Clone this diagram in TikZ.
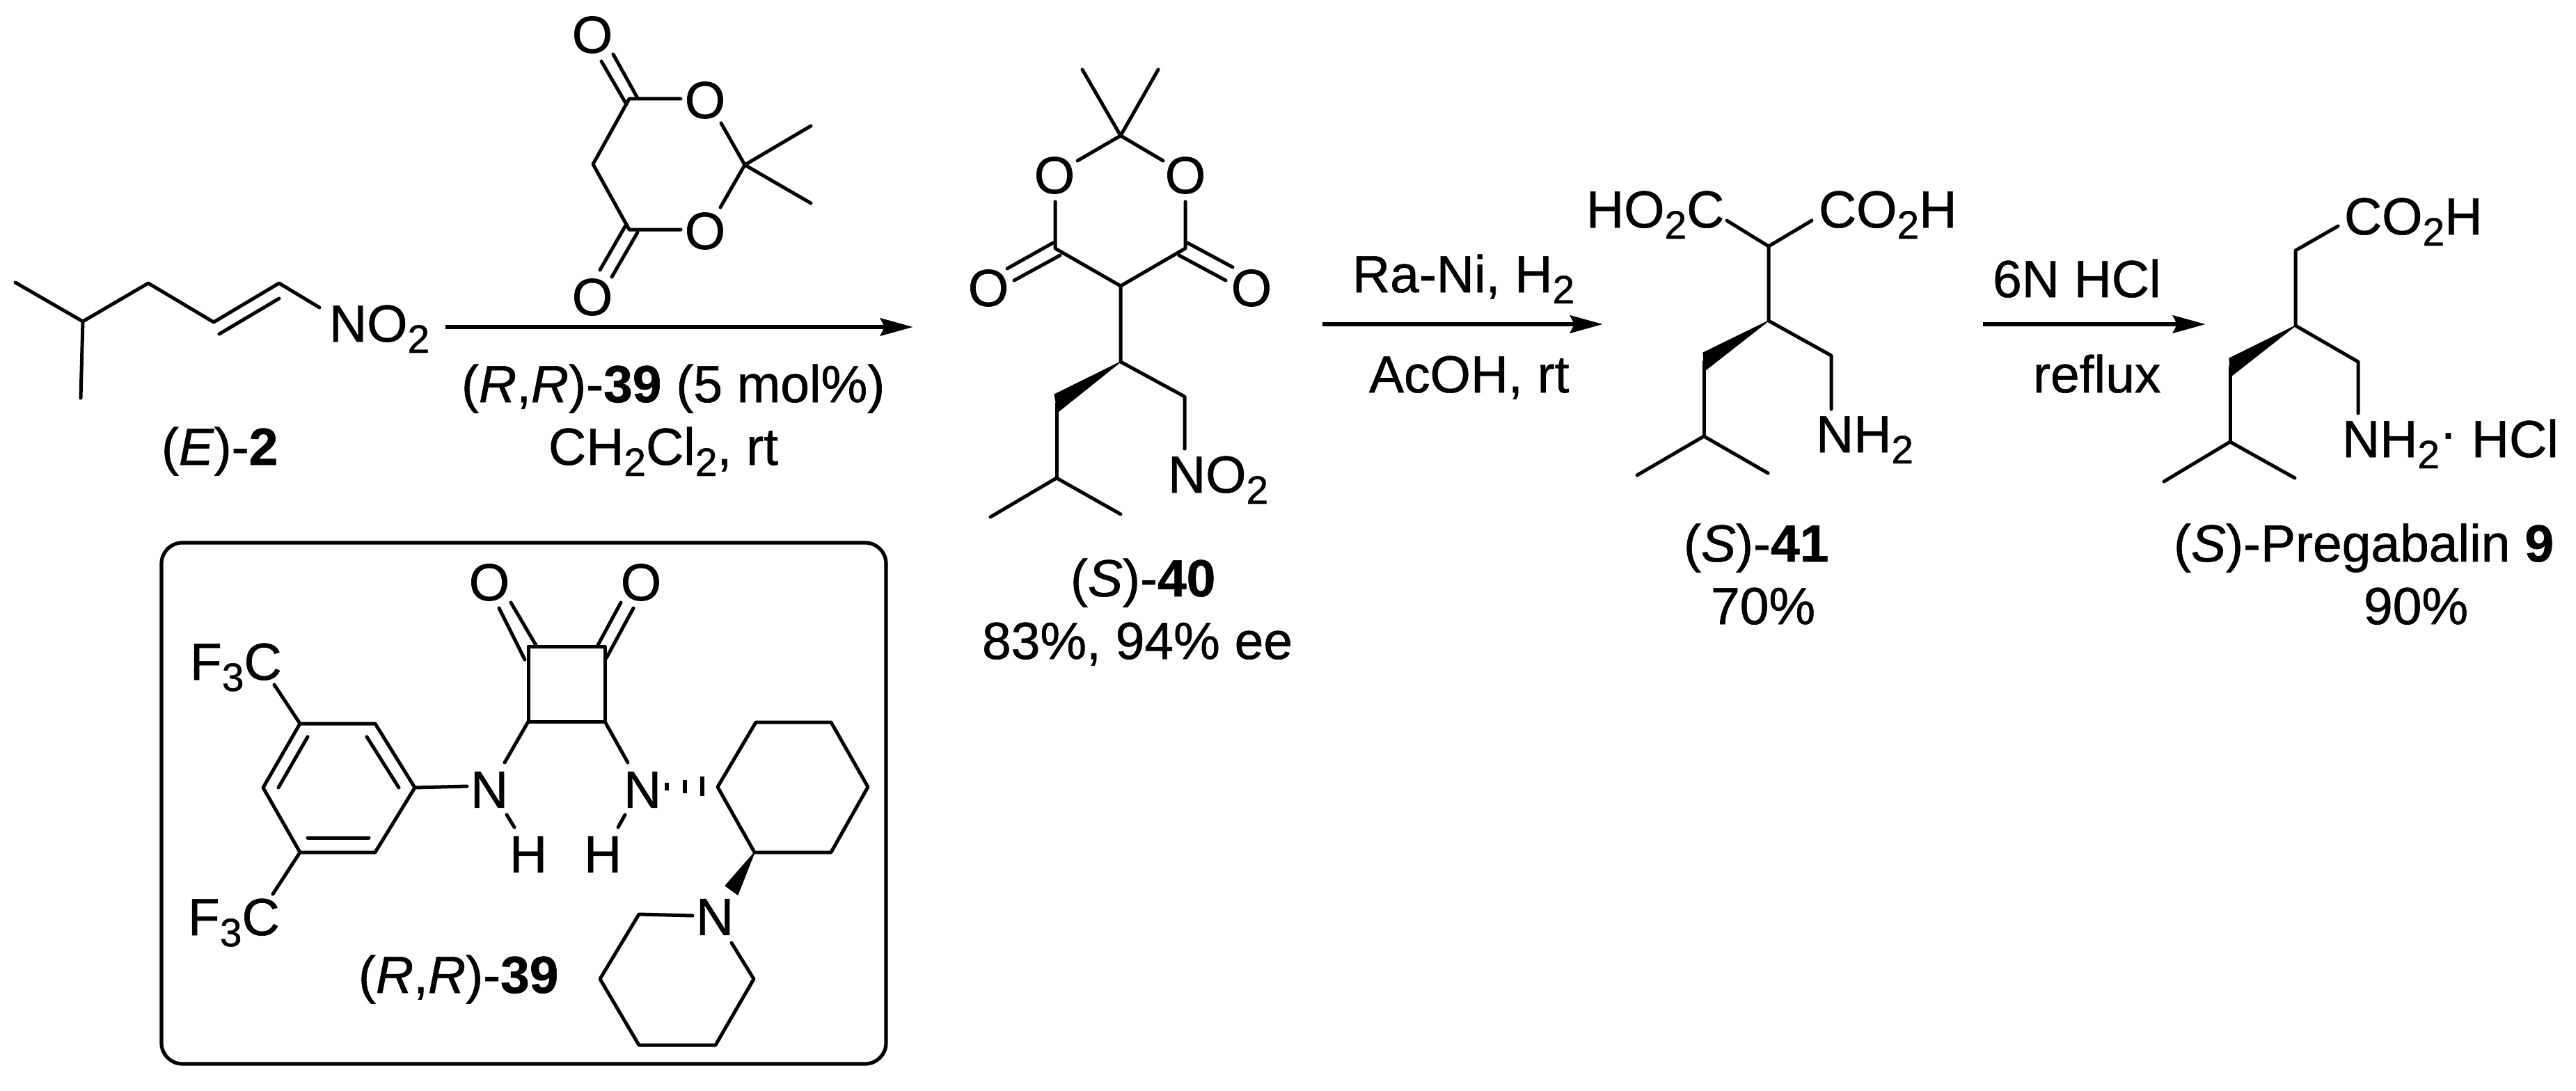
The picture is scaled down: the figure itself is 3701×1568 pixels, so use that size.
\documentclass[tikz,border=0pt]{standalone}
\usepackage{fontspec}
\setmainfont[FakeBold=0.8]{Liberation Sans}
\usetikzlibrary{arrows.meta}
\newcommand{\chsub}[1]{\raisebox{-8pt}{\fontsize{28.5}{28.5}\selectfont #1}}
\tikzset{
  bond/.style={draw=black,line width=2.5pt,line cap=round,line join=round},
  wedgeb/.style={fill=black,draw=black,line width=0.6pt,line join=round},
  hashb/.style={draw=black,line width=2.6pt},
  framebox/.style={draw=black,line width=2.6pt,rounded corners=15pt},
  rxnarrow/.style={draw=black,line width=3.4pt,-{Stealth[length=23.5pt,width=12.5pt,inset=3pt]}},
  lab/.style={inner sep=0pt,outer sep=0pt,anchor=base west,font=\fontsize{37.5}{42}\selectfont},
  atom/.style={inner sep=0pt,outer sep=0pt,anchor=center,font=\fontsize{37.5}{42}\selectfont}
}
\begin{document}
\begin{tikzpicture}[x=0.5pt,y=-0.5pt]
\useasboundingbox (0,0) rectangle (3701,1568);
\fill[white] (0,0) rectangle (3701,1568);

% (E)-2
\draw[bond] (22,406) -- (119,462) -- (213,407) -- (307,463) -- (401,407) -- (459,442);
\draw[bond] (119,462) -- (116,572);
\draw[bond] (315,480) -- (401,429);
\node[lab] (no2a) at (473,491) {NO\chsub{2}};
\node[lab] (e2) at (232,668) {(\textit{E})-\textbf{2}};

% Meldrum's acid
\draw[bond] (978,142) -- (904,142) -- (852,236) -- (904,330) -- (978,330);
\draw[bond] (1036,177) -- (1070,237) -- (1035,298);
\draw[bond] (1070,237) -- (1165,181);
\draw[bond] (1070,237) -- (1165,292);
\draw[bond] (864,88) -- (900,150);
\draw[bond] (881,78) -- (916,141);
\draw[bond] (862,388) -- (900,322);
\draw[bond] (879,398) -- (916,334);
\node[atom] (ma1) at (851,50) {O};
\node[atom] (ma2) at (851,427) {O};
\node[atom] (ma3) at (1013,144) {O};
\node[atom] (ma4) at (1013,332) {O};

% arrow 1
\coordinate (a1s) at (640,470);
\coordinate (a1e) at (1312,470);
\draw[rxnarrow] (a1s) -- (a1e);
\node[lab] (cond1) at (663,578) {(\textit{R},\textit{R})-\textbf{39} (5 mol\%)};
\node[lab] (cond2) at (788,668) {CH\chsub{2}Cl\chsub{2}, rt};

% catalyst box
\draw[framebox] (232,780) rectangle (1273,1529);
% squaramide
\draw[bond] (759,929) rectangle (869,1037);
\draw[bond] (717,874) -- (754,948);
\draw[bond] (734,866) -- (771,929);
\draw[bond] (892,866) -- (858,929);
\draw[bond] (910,874) -- (871,946);
\node[atom] (sq1) at (703,837) {O};
\node[atom] (sq2) at (921,837) {O};
\draw[bond] (759,1037) -- (725,1096);
\draw[bond] (869,1037) -- (902,1096);
\node[atom] (n1) at (703,1135) {N};
\node[atom] (n2) at (923,1135) {N};
\draw[bond] (728,1171) -- (739,1189);
\draw[bond] (898,1171) -- (888,1189);
\node[atom] (h1) at (759,1228) {H};
\node[atom] (h2) at (866,1228) {H};
% aryl
\draw[bond] (431,1040) -- (539,1040) -- (596,1132) -- (539,1225) -- (431,1225) -- (378,1132) -- cycle;
\draw[bond] (527,1059) -- (573,1132);
\draw[bond] (442,1059) -- (400,1132);
\draw[bond] (442,1204) -- (530,1204);
\draw[bond] (596,1132) -- (671,1130);
\draw[bond] (394,984) -- (431,1040);
\draw[bond] (431,1225) -- (392,1285);
\node[lab] (cf1) at (273,977) {F\chsub{3}C};
\node[lab] (cf2) at (270,1344) {F\chsub{3}C};
% cyclohexane
\draw[bond] (1086,1038) -- (1194,1038) -- (1247,1131) -- (1194,1225) -- (1084,1225) -- (1031,1131) -- cycle;
\draw[hashb] (958,1125) -- (958,1136);
\draw[hashb] (984,1121) -- (984,1140);
\draw[hashb] (1009,1116) -- (1009,1144);
\fill[wedgeb] (1084,1225) -- (1042,1273) -- (1060,1286) -- cycle;
\node[atom] (n3) at (1027,1318) {N};
\draw[bond] (995,1316) -- (918,1314) -- (862,1407) -- (918,1502) -- (1028,1502) -- (1083,1407) -- (1051,1355);
\node[lab] (cat) at (515,1427) {(\textit{R},\textit{R})-\textbf{39}};

% (S)-40
\draw[bond] (1555,100) -- (1610,195) -- (1664,100);
\draw[bond] (1548,231) -- (1610,195) -- (1671,231);
\draw[bond] (1516,290) -- (1516,357) -- (1610,411) -- (1703,357) -- (1703,290);
\draw[bond] (1447,386) -- (1513,349);
\draw[bond] (1457,403) -- (1523,367);
\draw[bond] (1706,349) -- (1771,384);
\draw[bond] (1694,367) -- (1761,403);
\node[atom] (p1) at (1515,252) {O};
\node[atom] (p2) at (1703,252) {O};
\node[atom] (p3) at (1420,414) {O};
\node[atom] (p4) at (1798,414) {O};
\draw[bond] (1610,411) -- (1610,520) -- (1702,570) -- (1702,645);
\fill[wedgeb] (1610,520) -- (1515,567) -- (1520,592) -- cycle;
\draw[bond] (1518,580) -- (1518,687);
\draw[bond] (1423,743) -- (1518,687) -- (1610,739);
\node[lab] (no2b) at (1678,708) {NO\chsub{2}};
\node[lab] (s40) at (1538,857) {(\textit{S})-\textbf{40}};
\node[lab] (y40) at (1411,947) {83\%, 94\% ee};

% arrow 2
\coordinate (a2s) at (1900,466);
\coordinate (a2e) at (2303,466);
\draw[rxnarrow] (a2s) -- (a2e);
\node[lab] (cond3) at (1943,420) {Ra-Ni, H\chsub{2}};
\node[lab] (cond4) at (1967,564) {AcOH, rt};

% (S)-41
\node[lab] (d1) at (2279,327) {HO\chsub{2}C};
\node[lab] (d2) at (2613,327) {CO\chsub{2}H};
\draw[bond] (2481,317) -- (2541,354) -- (2603,317);
\draw[bond] (2541,354) -- (2541,461) -- (2631,511) -- (2631,588);
\fill[wedgeb] (2541,461) -- (2447,507) -- (2449,533) -- cycle;
\draw[bond] (2448,520) -- (2448,627);
\draw[bond] (2352,683) -- (2448,627) -- (2540,680);
\node[lab] (nh2a) at (2609,650) {NH\chsub{2}};
\node[lab] (s41) at (2419,807) {(\textit{S})-\textbf{41}};
\node[lab] (y41) at (2458,897) {70\%};

% arrow 3
\coordinate (a3s) at (2849,466);
\coordinate (a3e) at (3169,466);
\draw[rxnarrow] (a3s) -- (a3e);
\node[lab] (cond5) at (2863,427) {6N HCl};
\node[lab] (cond6) at (2921,564) {reflux};

% Pregabalin
\node[lab] (e1) at (3368,337) {CO\chsub{2}H};
\draw[bond] (3359,325) -- (3298,360) -- (3298,468) -- (3388,520) -- (3388,594);
\fill[wedgeb] (3298,468) -- (3203,515) -- (3205,541) -- cycle;
\draw[bond] (3204,527) -- (3204,635);
\draw[bond] (3109,692) -- (3204,635) -- (3297,687);
\node[lab] (nh2b) at (3365,657) {NH\chsub{2}\raisebox{5pt}{·} HCl};
\node[lab] (s9) at (3123,807) {(\textit{S})-Pregabalin \textbf{9}};
\node[lab] (y9) at (3396,897) {90\%};
\end{tikzpicture}
\end{document}
